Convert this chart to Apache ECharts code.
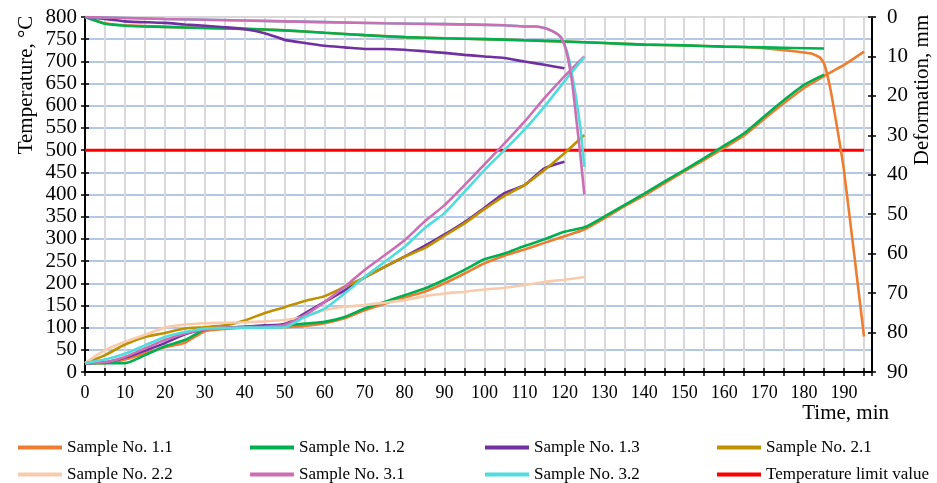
<!DOCTYPE html>
<html><head><meta charset="utf-8">
<script src="https://cdn.jsdelivr.net/npm/echarts@6/dist/echarts.min.js"></script>
<style>html,body{margin:0;padding:0;background:#fff}#c{width:937px;height:483px}</style>
</head><body><div id="c"></div>
<script>
// ---------- DATA ----------
const t195 = [0,5,10,15,20,25,30,35,40,45,50,55,60,65,70,75,80,85,90,95,100,105,110,115,120,125,130,135,140,145,150,155,160,165,170,175,180,185,190,195];
const t185 = [0,5,10,15,20,25,30,35,40,45,50,55,60,65,70,75,80,85,90,95,100,105,110,115,120,125,130,135,140,145,150,155,160,165,170,175,180,185];
const t125 = [0,5,10,15,20,25,30,35,40,45,50,55,60,65,70,75,80,85,90,95,100,105,110,115,120,125];
const t120 = [0,5,10,15,20,25,30,35,40,45,50,55,60,65,70,75,80,85,90,95,100,105,110,115,120];

// Temperature, °C
const temp11 = [20,20,28,42,56,66,92,97,100,100,101,104,110,121,139,154,168,181,200,222,245,262,276,291,306,321,346,373,398,425,452,478,505,533,570,606,640,667,692,722];
const temp12 = [20,20,20,38,58,72,96,100,102,103,105,109,113,124,143,158,173,188,208,230,254,267,284,299,316,326,350,376,402,429,455,482,510,538,576,613,647,670];
const temp13 = [20,22,32,48,65,85,97,100,102,105,108,132,158,184,213,237,260,284,310,338,370,403,421,459,474];
const temp21 = [20,38,62,79,88,98,101,105,116,133,146,160,171,192,213,237,260,279,307,335,367,397,421,455,493,534];
const temp22 = [20,49,68,84,100,107,110,111,112,114,117,125,140,147,151,156,162,171,177,181,186,190,196,203,208,214];
const temp31 = [20,22,34,53,72,87,96,100,101,102,106,128,158,192,230,263,297,339,376,421,468,515,564,617,666,711];
const temp32 = [20,28,41,60,79,90,98,99,100,100,101,124,143,177,214,248,282,324,358,406,455,500,546,598,655,710];

// Deformation, mm
const tDef11 = [0,5,10,20,30,40,50,60,70,80,90,100,110,120,130,140,150,160,165,170,175,180,182,184,185,186,187,190,195];
const def11  = [0,1.6,2.1,2.5,2.8,3.0,3.4,4.0,4.6,5.1,5.4,5.6,5.9,6.2,6.6,7.0,7.2,7.5,7.6,7.9,8.4,9.0,9.3,10.3,11.8,15.5,20.5,39,81];
const tDef12 = [0,5,10,20,30,40,50,60,70,80,90,100,110,120,130,140,150,160,170,185];
const def12  = [0,1.7,2.2,2.5,2.8,3.0,3.4,4.0,4.6,5.1,5.4,5.6,5.9,6.2,6.6,7.0,7.2,7.5,7.7,8.0];
const tDef13 = [0,5,10,20,25,30,35,40,45,50,55,60,65,70,75,80,85,90,95,100,105,110,115,120];
const def13  = [0,0.5,1.1,1.5,1.9,2.2,2.6,3.1,4.1,5.8,6.6,7.3,7.7,8.1,8.1,8.3,8.7,9.1,9.6,10.0,10.4,11.3,12.1,13.0];
const tDef31 = [0,20,40,60,75,90,105,110,113,115,117,119,120,121,122,123,124,125];
const def31  = [0,0.5,0.9,1.3,1.6,1.8,2.1,2.4,2.4,2.8,3.6,5.0,7.0,11,17,26,35,45];
const tDef32 = [0,20,40,60,75,90,105,110,113,115,117,119,120,121,122,123,124,125];
const def32  = [0,0.5,0.9,1.3,1.6,1.8,2.1,2.4,2.4,2.8,3.6,5.0,7.0,10,15,21,28,38];

const limitTimes = [0,195];
const limitValues = [500,500];

const names = ['Sample No. 1.1','Sample No. 1.2','Sample No. 1.3','Sample No. 2.1','Sample No. 2.2','Sample No. 3.1','Sample No. 3.2','Temperature limit value'];
const colors = ['#ED7D31','#00B050','#7030A0','#BF9000','#F8CBAD','#CC6EB4','#50DCDC','#FF0000'];

const xTickLabels = [0,10,20,30,40,50,60,70,80,90,100,110,120,130,140,150,160,170,180,190];

// ---------- BUILD ----------
const zip = (ts, vs) => ts.map((t, i) => [t, vs[i]]);
const FONT = 'Liberation Serif';

function line(nameIdx, data, yIdx, z, smooth) {
  const c = colors[nameIdx];
  return {
    type: 'line', name: names[nameIdx], data: data, yAxisIndex: yIdx, xAxisIndex: 0,
    showSymbol: false, symbol: 'none', smooth: smooth === undefined ? 0.2 : smooth,
    color: c, itemStyle: { color: c }, lineStyle: { color: c, width: 2.6 }, z: z, animation: false
  };
}

const series = [
  line(0, zip(t195, temp11), 0, 3),
  line(1, zip(t185, temp12), 0, 3),
  line(2, zip(t120, temp13), 0, 3),
  line(3, zip(t125, temp21), 0, 3),
  line(4, zip(t125, temp22), 0, 3),
  line(5, zip(t125, temp31), 0, 3),
  line(6, zip(t125, temp32), 0, 3),
  Object.assign(line(7, zip(limitTimes, limitValues), 0, 2, false), { lineStyle: { color: colors[7], width: 3 } }),
  line(0, zip(tDef11, def11), 1, 3, 0.12),
  line(1, zip(tDef12, def12), 1, 3),
  line(2, zip(tDef13, def13), 1, 3),
  line(6, zip(tDef32, def32), 1, 3, 0.12),
  line(5, zip(tDef31, def31), 1, 4, 0.12)
];

const legendX = [18, 250, 485, 717];
const legendY = [439, 466];
const legends = names.map((n, i) => ({
  data: [n], left: legendX[i % 4], top: legendY[Math.floor(i / 4)], padding: 0,
  icon: 'rect', itemWidth: 44, itemHeight: 4, itemGap: 0,
  textStyle: { fontFamily: FONT, fontSize: 17, color: '#000' }, selectedMode: false
}));

const labelStyle = { fontFamily: FONT, fontSize: 18, color: '#000' };
const yLabelStyle = { fontFamily: FONT, fontSize: 21, color: '#000' };
const tickIn = { show: true, inside: true, length: 4, lineStyle: { color: '#000', width: 1.5 } };
const tickOut = { show: true, inside: false, length: 4, lineStyle: { color: '#000', width: 1.5 } };

const option = {
  animation: false,
  backgroundColor: '#fff',
  grid: { left: 85, right: 65, top: 17, bottom: 111, containLabel: false },
  legend: legends,
  xAxis: [
    { type: 'value', position: 'bottom', min: 0, max: 197, interval: 5,
      axisLine: { show: true, onZero: false, lineStyle: { color: '#000', width: 2 } },
      axisTick: tickOut,
      axisLabel: Object.assign({ margin: 12, formatter: v => (xTickLabels.indexOf(v) >= 0 ? String(v) : '') }, labelStyle),
      splitLine: { show: true, lineStyle: { color: '#D9D9D9', width: 2 } } },
    { type: 'value', position: 'bottom', min: 0, max: 197, interval: 5,
      axisLine: { show: false, onZero: false }, axisTick: tickIn, axisLabel: { show: false }, splitLine: { show: false } },
    { type: 'value', position: 'top', min: 0, max: 197, interval: 5,
      axisLine: { show: true, onZero: false, lineStyle: { color: '#D9D9D9', width: 2 } },
      axisTick: { show: false }, axisLabel: { show: false }, splitLine: { show: false } }
  ],
  yAxis: [
    { type: 'value', position: 'left', min: 0, max: 800, interval: 50,
      axisLine: { show: true, onZero: false, lineStyle: { color: '#000', width: 2 } },
      axisTick: tickOut, axisLabel: Object.assign({ margin: 8 }, yLabelStyle),
      splitLine: { show: true, showMaxLine: false, lineStyle: { color: '#B4C7E7', width: 2 } } },
    { type: 'value', position: 'right', min: 0, max: 90, interval: 10, inverse: true,
      axisLine: { show: true, onZero: false, lineStyle: { color: '#000', width: 2 } },
      axisTick: tickOut, axisLabel: Object.assign({ margin: 15 }, yLabelStyle), splitLine: { show: false } },
    { type: 'value', position: 'left', min: 0, max: 800, interval: 50,
      axisLine: { show: false, onZero: false }, axisTick: tickIn, axisLabel: { show: false }, splitLine: { show: false } },
    { type: 'value', position: 'right', min: 0, max: 90, interval: 10, inverse: true,
      axisLine: { show: false, onZero: false }, axisTick: tickIn, axisLabel: { show: false }, splitLine: { show: false } }
  ],
  graphic: [
    { type: 'text', x: 26, y: 85, rotation: Math.PI / 2,
      style: { text: 'Temperature, °C', x: 0, y: 0, align: 'center', verticalAlign: 'middle', fontFamily: FONT, fontSize: 21, fill: '#000' } },
    { type: 'text', x: 922, y: 90, rotation: Math.PI / 2,
      style: { text: 'Deformation, mm', x: 0, y: 0, align: 'center', verticalAlign: 'middle', fontFamily: FONT, fontSize: 21, fill: '#000' } },
    { type: 'text', x: 889, y: 413,
      style: { text: 'Time, min', x: 0, y: 0, align: 'right', verticalAlign: 'middle', fontFamily: FONT, fontSize: 21, fill: '#000' } }
  ],
  series: series
};

const chart = echarts.init(document.getElementById('c'), null, { renderer: 'canvas' });
chart.setOption(option);
</script>
</body></html>
